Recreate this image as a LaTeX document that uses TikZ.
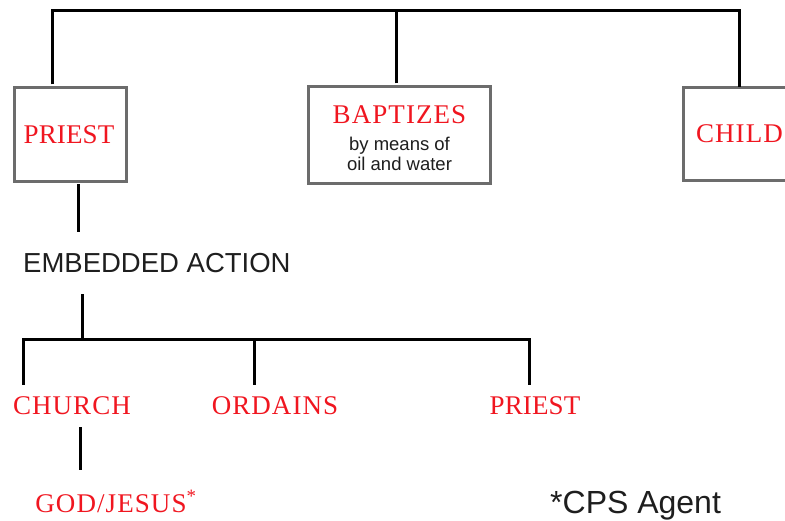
\documentclass[tikz,border=0pt]{standalone}
\usepackage{fontspec}
\setmainfont{Liberation Serif}
\newfontfamily\redserif[LetterSpace=4]{Liberation Serif}
\newfontfamily\redserifnarrow[LetterSpace=0.5]{Liberation Serif}
\newfontfamily\plainsans{Liberation Sans}
\definecolor{labelred}{RGB}{240,22,32}
\definecolor{boxgray}{RGB}{108,108,108}
\definecolor{textdark}{RGB}{30,30,30}
\begin{document}
\begin{tikzpicture}[x=1pt,y=-1pt,
  conn/.style={line width=3pt, draw=black, line join=miter},
  framebox/.style={draw=boxgray, line width=3pt, inner sep=0pt, fill=white},
  redtext/.style={text=labelred, font=\redserif\fontsize{27}{32}\selectfont},
  narrowred/.style={text=labelred, font=\redserifnarrow\fontsize{27}{32}\selectfont},
  redlabel/.style={redtext, inner xsep=0pt, inner ysep=12pt, text height=18pt, text depth=0pt, anchor=base},
  sanslabel/.style={text=textdark, inner xsep=0pt, inner ysep=0pt, text depth=0pt, anchor=base west}]
\useasboundingbox (0,0) rectangle (785,521);
\clip (0,0) rectangle (785,521);

% boxes
\node[framebox, narrowred, minimum width=112pt, minimum height=94pt, text height=18pt, text depth=0pt]
  (priestbox) at (70.5,134.5) {\hspace*{-3pt}PRIEST};
\node[framebox, minimum width=182pt, minimum height=97pt, align=center,
      font=\plainsans\fontsize{18.5}{20}\selectfont, text=textdark]
  (baptbox) at (399.5,135) {\rule{0pt}{24pt}{\redserif\fontsize{27}{32}\selectfont\textcolor{labelred}{BAPTIZES}}\\[7pt]by means of\\oil and water};
\node[framebox, redtext, minimum width=112pt, minimum height=93pt, text height=18pt, text depth=0pt]
  (childbox) at (739.5,134) {CHILD};

% embedded action
\node[sanslabel, font=\plainsans\fontsize{27.5}{33}\selectfont, text height=20pt, inner ysep=21pt]
  (embedded) at (23,273) {EMBEDDED ACTION};

% lower labels
\node[redlabel] (church) at (72,415) {CHURCH};
\node[redlabel] (ordains) at (275,415) {ORDAINS};
\node[redlabel, narrowred] (priestlow) at (535,415) {PRIEST};
\node[redlabel, inner ysep=24pt] (god) at (116,512) {GOD/JESUS\textsuperscript{*}};
\node[sanslabel, font=\plainsans\fontsize{32}{37}\selectfont, text height=22pt]
  (cps) at (550,513) {*CPS Agent};

% top connectors
\coordinate (pdrop) at (52,11);
\coordinate (bdrop) at (396,11);
\draw[conn, shorten <=1.5pt] (priestbox.north -| pdrop) -- (pdrop) -| ([yshift=-1.5pt]childbox.north);
\draw[conn, shorten <=1.5pt] (baptbox.north -| bdrop) -- (bdrop);

% priest to embedded action
\coordinate (pdown) at (78,0);
\draw[conn, shorten <=1.5pt] (priestbox.south -| pdown) -- (embedded.north -| pdown);

% embedded action tree
\coordinate (hub) at (82,340);
\coordinate (busa) at (23,340);
\coordinate (busb) at (254,340);
\coordinate (busc) at (529,340);
\draw[conn] (embedded.south -| hub) -- (hub);
\draw[conn] (church.north -| busa) |- (busc) -- (priestlow.north -| busc);
\draw[conn] (busb) -- (ordains.north -| busb);

% church to god
\coordinate (cdown) at (80,0);
\draw[conn] (church.south -| cdown) -- (god.north -| cdown);
\end{tikzpicture}
\end{document}
